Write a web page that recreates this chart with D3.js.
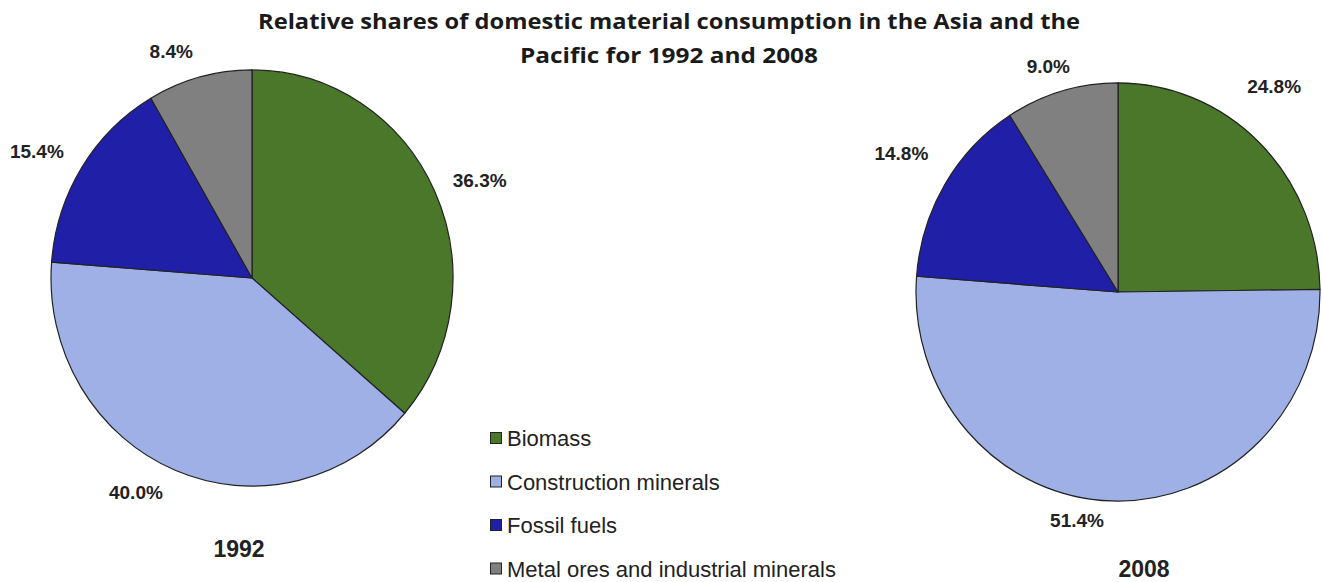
<!DOCTYPE html>
<html>
<head>
<meta charset="utf-8">
<script src="https://cdn.jsdelivr.net/npm/d3@7"></script>
<style>
  html, body { margin: 0; padding: 0; background: #fff; }
  svg { display: block; }
</style>
</head>
<body>
<svg id="chart" width="1322" height="582"></svg>
<script>
// Material categories, in clockwise order from 12 o'clock
const categories = ["Biomass", "Construction minerals", "Fossil fuels", "Metal ores and industrial minerals"];
const colors = ["#4a7729", "#9eb0e6", "#1f1fa8", "#808080"];

// Shares (%) per year
const years = ["1992", "2008"];
const shares1992 = [36.3, 40.0, 15.4, 8.4];
const shares2008 = [24.8, 51.4, 14.8, 9.0];

const titleLines = [
  "Relative shares of domestic material consumption  in the Asia and the",
  "Pacific for 1992 and 2008"
];

const svg = d3.select("#chart");

// Title (two centred lines, stretched to the set line widths)
const titleWidths = [822, 298];
svg.append("g").selectAll("text")
  .data(titleLines)
  .join("text")
  .attr("x", 669)
  .attr("y", (d, i) => 29 + i * 34)
  .attr("text-anchor", "middle")
  .attr("font-family", "'Open Sans', sans-serif")
  .attr("font-weight", "bold")
  .attr("font-size", 20.5)
  .attr("textLength", (d, i) => titleWidths[i])
  .attr("lengthAdjust", "spacingAndGlyphs")
  .attr("fill", "#1a1a1a")
  .text(d => d);

const pie = d3.pie().sort(null).value(d => d);
const fmt = d => d.toFixed(1) + "%";

// Layout for each pie; labelNudge shifts individual percentage labels
const pies = [
  { year: years[0], values: shares1992, cx: 252, cy: 278, r: 201,
    yearX: 239, yearY: 557,
    labelNudge: [[-3, 4], [-19, -10], [0, 3], [-16, 9]] },
  { year: years[1], values: shares2008, cx: 1118, cy: 292, r: 202,
    yearX: 1144, yearY: 577,
    labelNudge: [[-23, -32], [-33, -16], [2, -13], [0, 9]] }
];

const labelFont = 19;
const labelGap = 26;
const squash = 1.035;

pies.forEach(p => {
  const g = svg.append("g").attr("transform", `translate(${p.cx},${p.cy})`);
  const arcs = pie(p.values);
  const arc = d3.arc().innerRadius(0).outerRadius(p.r);

  g.append("g")
    .attr("transform", `scale(1,${squash})`)
    .selectAll("path")
    .data(arcs)
    .join("path")
    .attr("d", arc)
    .attr("fill", (d, i) => colors[i])
    .attr("stroke", "#222")
    .attr("stroke-width", 1.2)
    .attr("stroke-linejoin", "round");

  // Percentage labels placed outside the rim, pushed out by half their box
  const labels = g.append("g").selectAll("text")
    .data(arcs)
    .join("text")
    .attr("text-anchor", "middle")
    .attr("dominant-baseline", "central")
    .attr("font-family", "'Liberation Sans', Arial, sans-serif")
    .attr("font-weight", "bold")
    .attr("font-size", labelFont)
    .attr("fill", "#222")
    .text(d => fmt(d.data));

  labels.each(function(d, i) {
    const a = (d.startAngle + d.endAngle) / 2;
    const w = this.getComputedTextLength();
    const h = labelFont * 0.9;
    const rr = p.r + labelGap;
    const x = rr * Math.sin(a) + Math.sin(a) * w / 2 + p.labelNudge[i][0];
    const y = -rr * squash * Math.cos(a) - Math.cos(a) * h / 2 + p.labelNudge[i][1];
    d3.select(this).attr("x", x).attr("y", y);
  });

  svg.append("text")
    .attr("x", p.yearX)
    .attr("y", p.yearY)
    .attr("text-anchor", "middle")
    .attr("font-family", "'Liberation Sans', Arial, sans-serif")
    .attr("font-weight", "bold")
    .attr("font-size", 23)
    .attr("fill", "#222")
    .text(p.year);
});

// Legend
const legend = svg.append("g").attr("transform", "translate(490,438)");
const rows = legend.selectAll("g")
  .data(categories)
  .join("g")
  .attr("transform", (d, i) => `translate(0,${i * 43.5})`);

rows.append("rect")
  .attr("x", 0.5).attr("y", -5.5)
  .attr("width", 11).attr("height", 11)
  .attr("fill", (d, i) => colors[i])
  .attr("stroke", "#222")
  .attr("stroke-width", 1);

rows.append("text")
  .attr("x", 17)
  .attr("y", 8)
  .attr("font-family", "'Liberation Sans', Arial, sans-serif")
  .attr("font-size", 22)
  .attr("fill", "#222")
  .text(d => d);
</script>
</body>
</html>
